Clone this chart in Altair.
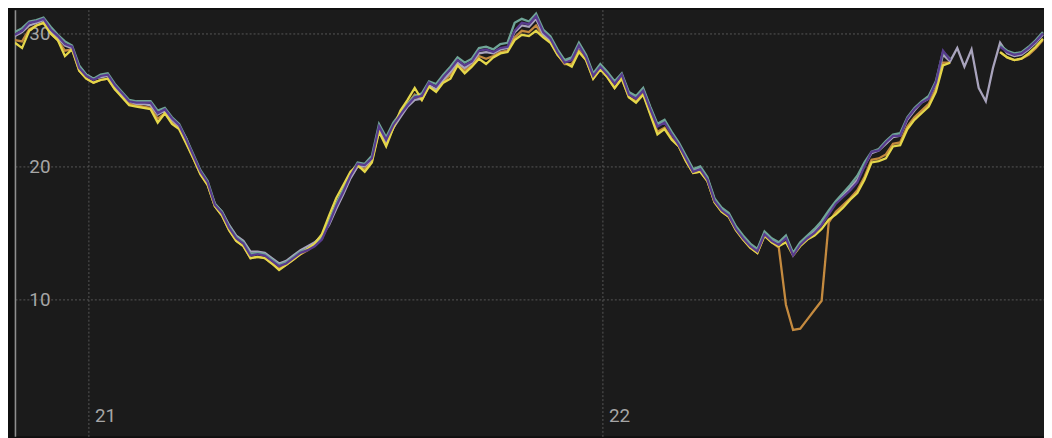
import altair as alt
import pandas as pd

# Readings every 20 minutes, starting 2023-08-20 20:34 (145 samples, two days)
START = "2023-08-20 20:34"
N = 145

purple = [
    29.9, 30.2, 30.8, 30.9, 31.1, 30.3, 29.8, 29.2, 29.0, 27.4,
    26.8, 26.5, 26.8, 26.9, 26.1, 25.5, 24.9, 24.8, 24.8, 24.8,
    24.0, 24.3, 23.6, 23.1, 22.0, 20.8, 19.6, 18.8, 17.1, 16.5,
    15.4, 14.6, 14.2, 13.3, 13.4, 13.3, 12.9, 12.5, 12.7, 13.1,
    13.5, 13.7, 14.0, 14.5, 15.7, 17.0, 18.1, 19.3, 20.2, 20.1,
    20.6, 23.0, 22.0, 23.1, 23.9, 24.6, 25.2, 25.3, 26.3, 26.0,
    26.7, 27.3, 28.0, 27.6, 27.9, 28.7, 28.8, 28.6, 28.9, 29.0,
    30.2, 30.8, 30.7, 31.3, 30.1, 29.6, 28.6, 27.8, 28.0, 29.1,
    28.2, 26.8, 27.5, 26.9, 26.2, 26.9, 25.4, 25.1, 25.7, 24.3,
    23.0, 23.3, 22.4, 21.6, 20.6, 19.6, 19.8, 19.0, 17.4, 16.7,
    16.3, 15.3, 14.6, 14.0, 13.6, 14.9, 14.4, 14.1, 14.6, 13.3,
    14.1, 14.6, 15.0, 15.6, 16.4, 17.2, 17.7, 18.2, 18.8, 20.0,
    21.1, 21.2, 21.8, 22.3, 22.3, 23.6, 24.3, 24.8, 25.1, 26.3,
    28.7, 28.0, None, None, None, None, None, None, 29.0, 28.6,
    28.4, 28.5, 28.9, 29.4, 30.0,
]

yellow = [
    29.3, 28.9, 30.2, 30.6, 30.8, 30.0, 29.5, 28.3, 28.8, 27.2,
    26.6, 26.3, 26.5, 26.6, 25.8, 25.2, 24.6, 24.5, 24.4, 24.3,
    23.3, 24.0, 23.2, 22.8, 21.7, 20.6, 19.4, 18.6, 17.0, 16.3,
    15.2, 14.4, 14.0, 13.1, 13.2, 13.1, 12.7, 12.2, 12.6, 13.0,
    13.4, 13.8, 14.2, 14.9, 16.3, 17.6, 18.6, 19.6, 20.1, 19.6,
    20.3, 22.6, 21.5, 22.9, 24.2, 25.0, 25.9, 25.0, 26.0, 25.6,
    26.3, 26.6, 27.6, 27.0, 27.5, 28.1, 27.7, 28.2, 28.5, 28.6,
    29.5, 29.9, 29.8, 30.2, 29.7, 29.3, 28.4, 27.8, 27.5, 28.6,
    28.0, 26.6, 27.3, 26.7, 25.9, 26.6, 25.2, 24.8, 25.4, 23.9,
    22.4, 22.8, 22.0, 21.5, 20.4, 19.5, 19.6, 18.9, 17.3, 16.6,
    16.2, 15.2, 14.5, 13.9, 13.5, 14.8, 14.3, 14.0, 14.3, 13.3,
    14.0, 14.5, 14.8, 15.3, 16.0, 16.4, 16.9, 17.5, 18.0, 19.0,
    20.3, 20.4, 20.6, 21.5, 21.6, 22.8, 23.5, 24.0, 24.5, 25.6,
    27.6, 27.8, None, None, None, None, None, None, 28.6, 28.2,
    28.0, 28.1, 28.5, 29.0, 29.6,
]

teal = [
    30.1, 30.4, 30.9, 31.0, 31.2, 30.5, 29.9, 29.4, 29.1, 27.6,
    26.9, 26.6, 26.9, 27.0, 26.2, 25.6, 25.0, 24.9, 24.9, 24.9,
    24.2, 24.4, 23.7, 23.2, 22.1, 20.9, 19.7, 18.9, 17.2, 16.6,
    15.5, 14.7, 14.3, 13.4, 13.5, 13.4, 13.0, 12.6, 12.8, 13.2,
    13.6, 13.8, 14.1, 14.6, 15.9, 17.2, 18.3, 19.4, 20.3, 20.2,
    20.8, 23.2, 22.2, 23.3, 24.0, 24.7, 25.3, 25.5, 26.4, 26.2,
    26.9, 27.5, 28.2, 27.8, 28.1, 28.9, 29.0, 28.8, 29.2, 29.3,
    30.8, 31.1, 30.9, 31.5, 30.3, 29.8, 28.8, 28.0, 28.2, 29.3,
    28.4, 27.0, 27.7, 27.1, 26.4, 27.0, 25.6, 25.3, 25.9, 24.5,
    23.2, 23.5, 22.6, 21.8, 20.8, 19.8, 20.0, 19.2, 17.6, 16.9,
    16.5, 15.5, 14.8, 14.2, 13.8, 15.1, 14.6, 14.3, 14.8, 13.5,
    14.3, 14.8, 15.3, 15.9, 16.7, 17.4, 18.0, 18.6, 19.3, 20.3,
    21.1, 21.3, 21.9, 22.4, 22.5, 23.7, 24.4, 24.9, 25.3, 26.4,
    28.6, 28.1, None, None, None, None, None, None, 29.1, 28.7,
    28.5, 28.6, 29.0, 29.5, 30.1,
]

gray = [
    29.8, 30.1, 30.6, 30.8, 31.0, 30.2, 29.7, 29.1, 28.9, 27.5,
    26.9, 26.6, 26.7, 26.8, 26.0, 25.4, 24.9, 24.7, 24.7, 24.6,
    23.9, 24.2, 23.5, 23.0, 22.1, 20.7, 19.6, 18.7, 17.2, 16.6,
    15.6, 14.8, 14.4, 13.6, 13.6, 13.5, 13.1, 12.7, 12.9, 13.3,
    13.7, 14.0, 14.3, 14.8, 15.6, 16.8, 17.9, 19.1, 20.0, 20.0,
    20.5, 22.8, 21.9, 22.9, 23.7, 24.5, 25.0, 25.1, 26.1, 25.8,
    26.5, 27.1, 27.8, 27.4, 27.8, 28.5, 28.6, 28.5, 28.8, 28.9,
    30.1, 30.6, 30.5, 31.1, 29.9, 29.5, 28.6, 27.9, 28.1, 29.0,
    28.3, 26.9, 27.6, 27.0, 26.3, 26.9, 25.5, 25.2, 25.8, 24.4,
    23.1, 23.4, 22.5, 21.7, 20.7, 19.7, 19.9, 19.1, 17.5, 16.8,
    16.4, 15.4, 14.7, 14.1, 13.7, 15.0, 14.5, 14.2, 14.7, 13.4,
    14.2, 14.7, 15.1, 15.7, 16.5, 17.3, 17.8, 18.4, 19.0, 20.1,
    21.0, 21.2, 21.7, 22.2, 22.3, 23.5, 24.2, 24.8, 25.1, 26.2,
    28.4, 27.9, 28.9, 27.5, 28.8, 25.9, 24.9, 27.4, 29.3, 28.5,
    28.3, 28.4, 28.8, 29.3, 29.9,
]

orange = [
    29.5, 29.4, 30.3, 30.6, 30.8, 30.0, 29.5, 28.7, 28.8, 27.2,
    26.6, 26.3, 26.5, 26.6, 25.8, 25.3, 24.7, 24.6, 24.5, 24.4,
    23.6, 24.0, 23.3, 22.9, 21.8, 20.6, 19.4, 18.6, 17.0, 16.3,
    15.2, 14.4, 14.0, 13.1, 13.2, 13.1, 12.7, 12.3, 12.6, 13.0,
    13.4, 13.7, 14.1, 14.6, 15.8, 17.0, 18.1, 19.2, 20.0, 19.8,
    20.4, 22.7, 21.7, 22.9, 23.9, 24.7, 25.4, 25.0, 26.1, 25.7,
    26.4, 26.9, 27.7, 27.2, 27.6, 28.3, 28.1, 28.3, 28.6, 28.7,
    29.7, 30.2, 30.1, 30.6, 29.8, 29.4, 28.4, 27.7, 27.7, 28.7,
    28.0, 26.6, 27.3, 26.7, 25.9, 26.6, 25.2, 24.9, 25.5, 24.0,
    22.6, 22.9, 22.1, 21.5, 20.4, 19.5, 19.6, 18.9, 17.3, 16.6,
    16.2, 15.2, 14.5, 13.9, 13.5, 14.8, 14.3, 13.9, 9.6, 7.7,
    7.8, 8.5, 9.2, 9.9, 15.8, 16.6, 17.1, 17.6, 18.2, 19.2,
    20.5, 20.6, 20.9, 21.7, 21.8, 23.0, 23.7, 24.2, 24.7, 25.8,
    27.8, 27.8, None, None, None, None, None, None, 28.6, 28.2,
    28.0, 28.1, 28.4, 28.9, 29.5,
]

# drawing order: first is bottom-most
series_order = ["orange", "gray", "teal", "yellow", "purple"]
series_values = {"orange": orange, "gray": gray, "teal": teal,
                 "yellow": yellow, "purple": purple}
series_colors = {"orange": "#c48a3f", "gray": "#a9a4bd", "teal": "#6fa597",
                 "yellow": "#e4d64a", "purple": "#583b8e"}

y_ticks = [10, 20, 30]

times = pd.date_range(START, periods=N, freq="20min").strftime("%Y-%m-%dT%H:%M:%S")
frames = []
for name in series_order:
    vals = series_values[name]
    assert len(vals) == N, (name, len(vals))
    frames.append(pd.DataFrame({"time": times, "value": vals, "series": name}))
df = pd.concat(frames, ignore_index=True)

x_start = alt.DateTime(year=2023, month=8, date=20, hours=20, minutes=34)
x_end = alt.DateTime(year=2023, month=8, date=22, hours=20, minutes=37)
day_ticks = [alt.DateTime(year=2023, month=8, date=21),
             alt.DateTime(year=2023, month=8, date=22)]

label_color = "#a6a6a6"
grid_color = "#575757"

x_enc = alt.X(
    "time:T",
    scale=alt.Scale(domain=[x_start, x_end]),
    axis=alt.Axis(
        values=day_ticks, format="%d", title=None,
        grid=True, gridColor=grid_color, gridDash=[2, 2], gridWidth=1,
        domain=False, ticks=False, tickSize=0,
        labelAlign="left", labelBaseline="middle", labelPadding=-21, labelOffset=6,
        labelColor=label_color, labelFontSize=19, labelFont="Roboto",
        labelFlush=False,
    ),
)
y_enc = alt.Y(
    "value:Q",
    scale=alt.Scale(domain=[-0.3, 31.79], nice=False, zero=False),
    axis=alt.Axis(
        values=y_ticks, title=None,
        grid=True, gridColor=grid_color, gridDash=[2, 2], gridWidth=1,
        domain=True, domainColor="#8e8e8e", domainWidth=1.6,
        ticks=False, tickSize=0,
        labelAlign="left", labelBaseline="middle", labelPadding=-14,
        labelColor=label_color, labelFontSize=19, labelFont="Roboto",
    ),
)

layers = []
for name in series_order:
    layers.append(
        alt.Chart(df)
        .transform_filter(alt.datum.series == name)
        .mark_line(color=series_colors[name], strokeWidth=2.3, clip=True,
                   invalid="break-paths-show-domains")
        .encode(x=x_enc, y=y_enc)
    )

chart = (
    alt.layer(*layers)
    .properties(
        width=1037, height=430,
        autosize=alt.AutoSizeParams(type="none"),
        padding={"left": 7, "top": 0, "right": 0, "bottom": 0},
        background="#0f0f0f",
    )
    .configure_view(fill="#1b1b1b", strokeWidth=0)
)

chart.save("out.html", embed_options={"renderer": "svg", "actions": False})
